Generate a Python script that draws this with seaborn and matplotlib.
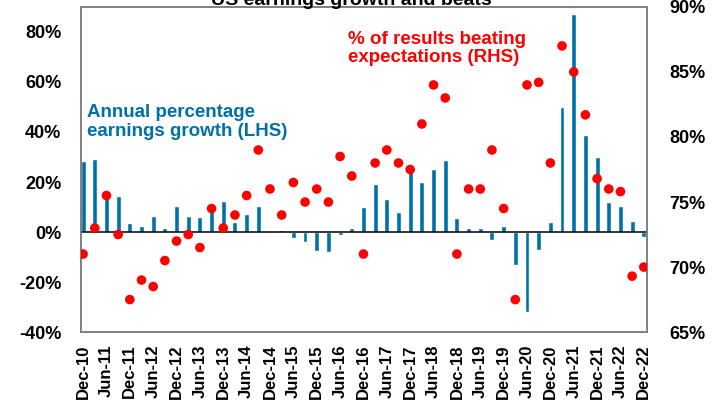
import numpy as np
import pandas as pd
import seaborn as sns
import matplotlib.pyplot as plt
from matplotlib.ticker import FuncFormatter

# quarterly categories Dec-10 .. Dec-22
quarters = pd.date_range("2010-12-31", periods=49, freq="QE").strftime("%b-%y").tolist()

# annual percentage earnings growth (LHS, %)
growth = [28.5, 29.2, 14.3, 14.5, 3.6, 2.3, 6.5, 1.6, 10.3, 6.3,
          6.0, 8.7, 12.5, 3.9, 7.3, 10.3, 0.5, 0.9, -2.4, -4.0,
          -7.7, -8.1, -1.1, 1.6, 9.9, 19.2, 13.2, 8.0, 23.9, 19.9,
          25.1, 28.9, 5.6, 1.6, 1.5, -3.3, 2.4, -13.1, -32.1, -7.3,
          4.0, 49.9, 87.1, 38.9, 30.1, 11.9, 10.4, 4.4, -2.1]

# % of results beating expectations (RHS, %)
beats = [71.0, 73.0, 75.5, 72.5, 67.5, 69.0, 68.5, 70.5, 72.0, 72.5,
         71.5, 74.5, 73.0, 74.0, 75.5, 79.0, 76.0, 74.0, 76.5, 75.0,
         76.0, 75.0, 78.5, 77.0, 71.0, 78.0, 79.0, 78.0, 77.5, 81.0,
         84.0, 83.0, 71.0, 76.0, 76.0, 79.0, 74.5, 67.5, 84.0, 84.2,
         78.0, 87.0, 85.0, 81.7, 76.8, 76.0, 75.8, 69.3, 70.0]

df = pd.DataFrame({"quarter": quarters, "growth": growth, "beats": beats})
df["pos"] = np.arange(len(df))

sns.set_style("white")
plt.rcParams["font.family"] = ["Liberation Sans", "DejaVu Sans"]
plt.rcParams["font.weight"] = "bold"
plt.rcParams["text.color"] = "black"
plt.rcParams["xtick.labelcolor"] = "black"
plt.rcParams["ytick.labelcolor"] = "black"

blue = "#0070A8"
red = "#FF0000"

fig = plt.figure(figsize=(7.21, 4.05), dpi=100)
ax = fig.add_axes([0.112, 0.180, 0.785, 0.803])

sns.barplot(data=df, x="pos", y="growth", color=blue, saturation=1, width=0.42,
            native_scale=True, ax=ax)
ax.axhline(0, color="black", lw=1.1, zorder=3)
ax.set_ylim(-40, 90)
ax.set_yticks(np.arange(-40, 81, 20))
ax.yaxis.set_major_formatter(FuncFormatter(lambda v, p: f"{v:.0f}%"))
ax.set_xlim(-0.2, 48.25)
ax.set_xticks(df["pos"][::2])
ax.set_xticklabels(df["quarter"][::2], rotation=90, fontsize=12, fontweight="bold")
ax.set_xlabel("")
ax.set_ylabel("")
ax.tick_params(axis="y", length=0, pad=14, labelsize=13, labelcolor="black")
ax.tick_params(axis="x", length=5, width=1, color="#808080", direction="out", pad=4,
               labelcolor="black")
for s in ax.spines.values():
    s.set_color("#808080")
    s.set_linewidth(1.2)

ax2 = ax.twinx()
sns.scatterplot(data=df, x="pos", y="beats", color=red, s=48, edgecolor="none",
                ax=ax2, zorder=4)
ax2.set_ylim(65, 90)
ax2.set_yticks(np.arange(65, 91, 5))
ax2.yaxis.set_major_formatter(FuncFormatter(lambda v, p: f"{v:.0f}%"))
ax2.tick_params(axis="y", length=0, pad=16, labelsize=13, labelcolor="black")
ax2.set_ylabel("")
ax2.set_xlabel("")
for s in ax2.spines.values():
    s.set_color("#808080")
    s.set_linewidth(1.2)

ax.text(0.3, 44, "Annual percentage\nearnings growth (LHS)", color=blue,
        fontsize=13.5, fontweight="bold", ha="left", va="center", linespacing=1.1)
ax2.text(22.7, 86.8, "% of results beating\nexpectations (RHS)", color=red,
         fontsize=13.5, fontweight="bold", ha="left", va="center", linespacing=1.1)

fig.text(0.488, 1 - 5 / 405, "US earnings growth and beats", ha="center", va="baseline",
         fontsize=14, fontweight="bold", color="black")

fig.savefig("out.png", dpi=100)
